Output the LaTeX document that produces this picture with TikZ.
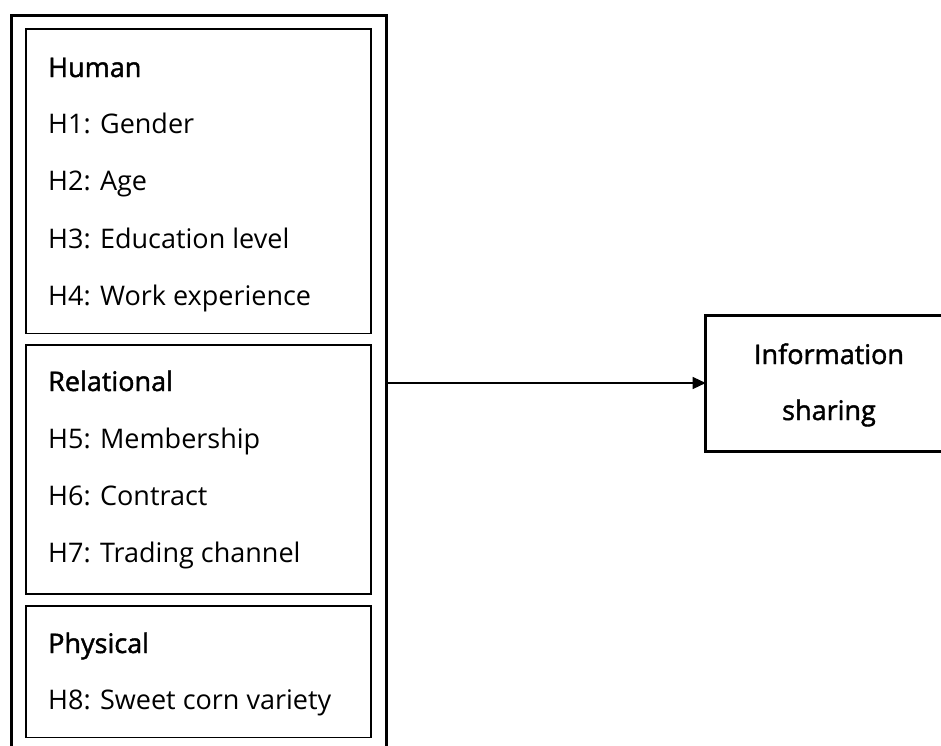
\documentclass[tikz,border=0pt]{standalone}
\usepackage{fontspec}
\setmainfont{Open Sans}
\newfontfamily\headfont[FakeBold=1.6]{Open Sans}
\usetikzlibrary{arrows.meta}
\begin{document}
\begin{tikzpicture}[x=1pt,y=-1pt,
  framebox/.style={draw, line width=3pt, inner sep=0pt, outer sep=0pt},
  groupbox/.style={draw, line width=1.8pt, inner sep=0pt, outer sep=0pt},
  txt/.style={inner sep=0pt, font=\fontsize{27}{32}\selectfont},
  head/.style={txt, anchor=base west, font=\fontsize{27}{32}\selectfont\headfont},
  item/.style={txt, anchor=base west},
  outtxt/.style={txt, anchor=base, font=\fontsize{27}{32}\selectfont\headfont},
  link/.style={line width=1.3pt, -{Triangle[length=13pt,width=12pt]}}]
\useasboundingbox (0,0) rectangle (941,745);
\clip (0,0) rectangle (941,745);

% outer frame holding the three groups of factors
\node[framebox, anchor=north west, minimum width=375pt, minimum height=744.5pt] (frame) at (11.5,15.5) {};

% group boxes
\node[groupbox, anchor=north west, minimum width=345.3pt, minimum height=304.2pt] (human) at (26,29.3) {};
\node[groupbox, anchor=north west, minimum width=345.3pt, minimum height=249pt] (relational) at (26,345) {};
\node[groupbox, anchor=north west, minimum width=345.3pt, minimum height=131.5pt] (physical) at (26,606) {};

% outcome box
\node[framebox, anchor=north west, minimum width=260pt, minimum height=136pt] (info) at (705.7,315) {};

% group texts
\node[head] (hHuman) at (48,77) {Human};
\node[item] (h1) at (48,133) {H1: Gender};
\node[item] (h2) at (48,190) {H2: Age};
\node[item] (h3) at (48,248) {H3: Education level};
\node[item] (h4) at (48,305) {H4: Work experience};

\node[head] (hRel) at (48,391) {Relational};
\node[item] (h5) at (48,448) {H5: Membership};
\node[item] (h6) at (48,505) {H6: Contract};
\node[item] (h7) at (48,562) {H7: Trading channel};

\node[head] (hPhys) at (48,653) {Physical};
\node[item] (h8) at (48,709) {H8: Sweet corn variety};

% outcome text
\node[outtxt] (infoA) at (829,364) {Information};
\node[outtxt] (infoB) at (829,420) {sharing};

% connector
\draw[link] (frame.east |- info.west) -- (info.west);
\end{tikzpicture}
\end{document}
